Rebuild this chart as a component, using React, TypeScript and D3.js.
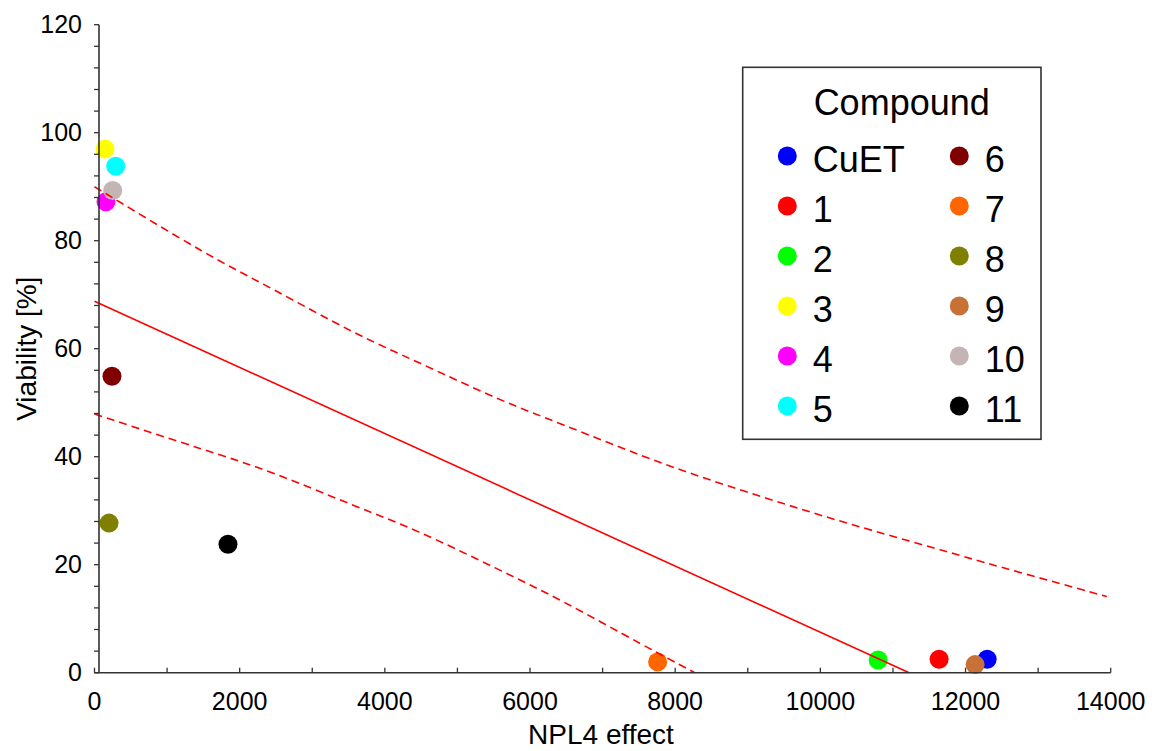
import React from "react";
import * as d3 from "d3";

const compounds = ["CuET", "1", "2", "3", "4", "5", "6", "7", "8", "9", "10", "11"];
const npl4Effect = [12298, 11636, 10796, 145, 158, 292, 241, 7758, 200, 12132, 251, 1839];
const viability = [2.5, 2.5, 2.35, 97.0, 87.2, 93.8, 54.9, 2.0, 27.7, 1.5, 89.3, 23.8];
const colors = ["#0000ff", "#ff0000", "#00ff00", "#ffff00", "#ff00ff", "#00ffff", "#800000", "#ff6600", "#808000", "#c87137", "#c4b4b4", "#000000"];

const fitX = [0, 11223];
const fitY = [68.8, 0];

const upperX = [0, 1591, 2417, 3588, 4415, 5585, 6412, 7596, 8423, 9580, 10406, 11591, 12417, 13946];
const upperY = [90.0, 77.0, 71.4, 62.7, 57.8, 50.4, 46.2, 39.8, 35.9, 30.9, 27.5, 23.0, 19.8, 14.1];
const lowerX = [0, 1591, 2417, 3588, 4415, 5585, 6412, 7596, 8270];
const lowerY = [47.9, 40.9, 37.4, 30.8, 26.6, 19.0, 13.6, 4.8, 0];

const xTicks = [0, 2000, 4000, 6000, 8000, 10000, 12000, 14000];
const yTicks = [0, 20, 40, 60, 80, 100, 120];

const FONT = "'Liberation Sans', Arial, Helvetica, sans-serif";

export default function App() {
  const x = d3.scaleLinear().domain([0, 14000]).range([94.5, 1110.7]);
  const y = d3.scaleLinear().domain([0, 120]).range([672.7, 24.7]);
  const axisX = x(0) + 4.5;
  const axisColor = "#333";

  const xMinor = d3.range(0, 14001, 1000);
  const yMinor = d3.range(0, 121, 4);

  const line = d3
    .line<[number, number]>()
    .x((d) => x(d[0]))
    .y((d) => y(d[1]));
  const smooth = d3
    .line<[number, number]>()
    .x((d) => x(d[0]))
    .y((d) => y(d[1]))
    .curve(d3.curveBasis);

  const fitPts = fitX.map((v, i) => [v, fitY[i]] as [number, number]);
  const upPts = upperX.map((v, i) => [v, upperY[i]] as [number, number]);
  const loPts = lowerX.map((v, i) => [v, lowerY[i]] as [number, number]);

  const legLeft = 742.7;
  const legTop = 67.3;
  const legRight = 1041;
  const legBottom = 439.3;
  const col1X = 787.3;
  const col2X = 959.3;
  const rowY0 = 156;
  const rowStep = 50;

  return (
    <svg
      width={1152}
      height={751}
      style={{ position: "absolute", left: 0, top: 0, background: "#fff" }}
      fontFamily={FONT}
    >
      <rect x={0} y={0} width={1152} height={751} fill="#fff" />
      {compounds.map((c, i) => (
        <circle key={c} cx={x(npl4Effect[i])} cy={y(viability[i])} r={9.5} fill={colors[i]} />
      ))}
      <path d={line(fitPts) || ""} fill="none" stroke="#ff0000" strokeWidth={1.6} />
      <path d={smooth(upPts) || ""} fill="none" stroke="#ff0000" strokeWidth={1.6} strokeDasharray="8,5" />
      <path d={smooth(loPts) || ""} fill="none" stroke="#ff0000" strokeWidth={1.6} strokeDasharray="8,5" />

      <line x1={x(0)} x2={x(14000)} y1={y(0)} y2={y(0)} stroke={axisColor} strokeWidth={1.6} />
      {xMinor.map((t) => (
        <line key={"xm" + t} x1={x(t)} x2={x(t)} y1={y(0)} y2={y(0) - 5} stroke={axisColor} strokeWidth={1.3} />
      ))}
      {xTicks.map((t) => (
        <text key={"xt" + t} x={x(t)} y={710} textAnchor="middle" fontSize={25} fill="#000">
          {t}
        </text>
      ))}
      <line x1={axisX} x2={axisX} y1={y(120)} y2={y(0)} stroke={axisColor} strokeWidth={1.6} />
      {yMinor.map((t) => (
        <line key={"ym" + t} x1={axisX} x2={axisX - 5} y1={y(t)} y2={y(t)} stroke={axisColor} strokeWidth={1.3} />
      ))}
      {yTicks.map((t) => (
        <text key={"yt" + t} x={82} y={y(t)} dy="0.35em" textAnchor="end" fontSize={25} fill="#000">
          {t}
        </text>
      ))}

      <text x={601} y={744} textAnchor="middle" fontSize={28} fill="#000">
        NPL4 effect
      </text>
      <text
        transform={`translate(36, ${(y(0) + y(120)) / 2}) rotate(-90)`}
        textAnchor="middle"
        fontSize={28}
        fill="#000"
      >
        Viability [%]
      </text>

      <rect
        x={legLeft}
        y={legTop}
        width={legRight - legLeft}
        height={legBottom - legTop}
        fill="#fff"
        stroke="#333"
        strokeWidth={1.6}
      />
      <text x={901.7} y={115} textAnchor="middle" fontSize={36} fill="#000">
        Compound
      </text>
      {compounds.map((c, i) => {
        const col = i < 6 ? 0 : 1;
        const row = i % 6;
        const cx = col === 0 ? col1X : col2X;
        const cy = rowY0 + row * rowStep;
        return (
          <g key={"leg" + c}>
            <circle cx={cx} cy={cy} r={9.5} fill={colors[i]} />
            <text x={cx + 25.5} y={cy + 15.5} fontSize={36} fill="#000">
              {c}
            </text>
          </g>
        );
      })}
    </svg>
  );
}
